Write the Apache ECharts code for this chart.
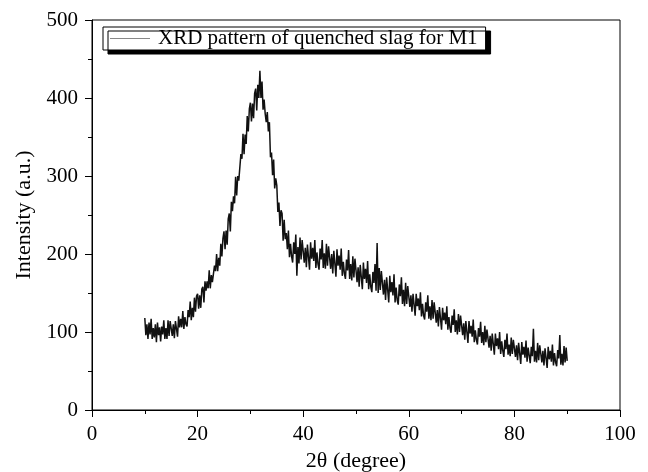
<!DOCTYPE html>
<html>
<head>
<meta charset="utf-8">
<script src="https://cdn.jsdelivr.net/npm/echarts@6/dist/echarts.min.js"></script>
<style>
  html, body { margin: 0; padding: 0; background: #fff; }
  #chart { width: 648px; height: 472px; }
</style>
</head>
<body>
<div id="chart"></div>
<script>
// scan grid: 10 to 90 degrees, step 0.2
const angleStart = 10
const angleStep = 0.2

// intensity, 5 points per degree
const intensity = [
  118, 96, 110, 91, 112,    97, 117, 91, 105, 93,     110, 87, 112, 96, 106,    88, 107, 97, 115, 91,
  105, 91, 115, 95, 114,    115, 95, 110, 92, 114,    116, 94, 120, 106, 117,   106, 127, 104, 119, 110,
  107, 128, 119, 139, 115,  131, 119, 144, 126, 146,  149, 130, 147, 131, 155,  158, 138, 165, 153, 165,
  156, 179, 156, 173, 164,  163, 185, 178, 200, 178,  195, 185, 213, 197, 220,  229, 206, 230, 212, 245,
  252, 229, 267, 255, 274,  265, 299, 275, 300, 294,  296, 328, 322, 354, 328,  353, 341, 377, 357, 386,
  394, 370, 393, 374, 406,  412, 384, 417, 400, 435,  400, 421, 385, 398, 380,  369, 382, 357, 369, 324,
  330, 301, 321, 284, 297,  288, 254, 266, 236, 256,  252, 217, 244, 219, 227,  206, 230, 196, 213, 197,
  189, 215, 200, 225, 172,  209, 188, 221, 193, 218,  219, 189, 208, 183, 212,  213, 180, 215, 194, 208,
  191, 218, 182, 202, 187,  180, 207, 193, 218, 182,  201, 181, 213, 185, 210,  211, 181, 200, 175, 204,
  204, 171, 206, 185, 198,  180, 207, 172, 190, 175,  168, 193, 179, 205, 168,  187, 166, 197, 170, 194,
  195, 164, 183, 158, 186,  188, 155, 189, 168, 181,  163, 191, 155, 174, 158,  151, 177, 163, 187, 153,
  214, 150, 182, 154, 178,  179, 148, 167, 141, 170,  171, 138, 172, 151, 164,  147, 174, 138, 157, 141,
  135, 161, 146, 170, 136,  154, 133, 163, 136, 159,  157, 132, 147, 126, 149,  150, 121, 149, 133, 143,
  128, 151, 120, 136, 121,  116, 138, 126, 147, 117,  133, 115, 141, 117, 138,  138, 112, 128, 107, 132,
  132, 103, 131, 115, 125,  110, 133, 103, 119, 105,  99, 121, 109, 129, 100,   115, 97, 123, 100, 121,
  121, 96, 111, 90, 114,    115, 86, 114, 98, 108,    94, 116, 87, 102, 90,     84, 105, 94, 113, 86,
  100, 83, 108, 87, 103,    104, 80, 95, 76, 98,      99, 71, 98, 82, 92,       78, 100, 72, 88, 76,
  68, 90, 78, 98, 71,       84, 69, 93, 72, 90,       91, 68, 83, 64, 86,       86, 59, 87, 71, 81,
  67, 89, 62, 80, 70,       60, 81, 69, 104, 62,      76, 61, 86, 64, 83,       84, 61, 76, 57, 79,
  80, 54, 81, 65, 76,       62, 84, 57, 73, 61,       56, 77, 66, 96, 58,       72, 57, 82, 61, 80,
  63
]

const xTicks = [0, 20, 40, 60, 80, 100]
const yTicks = [0, 100, 200, 300, 400, 500]
const seriesName = 'XRD pattern of quenched slag for M1'

const points = intensity.map((v, i) => [angleStart + i * angleStep, v])

const serif = 'Liberation Serif'
const chart = echarts.init(document.getElementById('chart'))
chart.setOption({
  animation: false,
  backgroundColor: '#fff',
  grid: {
    left: 92, right: 28, top: 20, bottom: 62,
    outerBoundsMode: 'none',
    show: true, borderColor: '#000', borderWidth: 1
  },
  legend: {
    left: 103, top: 27,
    padding: [1, 8, 1, 7],
    itemWidth: 40, itemHeight: 1, itemGap: 4,
    backgroundColor: '#fff',
    borderColor: '#000', borderWidth: 1,
    shadowColor: '#000', shadowBlur: 0, shadowOffsetX: 5, shadowOffsetY: 4,
    itemStyle: { color: '#888' },
    textStyle: { fontFamily: serif, fontSize: 21, color: '#000', padding: [0, 0, 0, 3] },
    data: [{ name: seriesName, icon: 'rect' }]
  },
  xAxis: {
    type: 'value',
    min: 0, max: 100, interval: 20,
    name: '2θ (degree)',
    nameLocation: 'middle', nameGap: 38,
    nameTextStyle: { fontFamily: serif, fontSize: 22, color: '#000' },
    axisLine: { lineStyle: { color: '#000', width: 1 } },
    axisTick: { inside: false, length: 7, lineStyle: { color: '#000' } },
    minorTick: { show: true, splitNumber: 2, length: 4, lineStyle: { color: '#000' } },
    axisLabel: { fontFamily: serif, fontSize: 21, color: '#000', margin: 14,
      formatter: v => xTicks.includes(v) ? String(v) : '' },
    splitLine: { show: false }
  },
  yAxis: {
    type: 'value',
    min: 0, max: 500, interval: 100,
    name: 'Intensity (a.u.)',
    nameLocation: 'middle', nameGap: 56,
    nameTextStyle: { fontFamily: serif, fontSize: 22, color: '#000' },
    axisLine: { show: true, lineStyle: { color: '#000', width: 1 } },
    axisTick: { show: true, inside: false, length: 7, lineStyle: { color: '#000' } },
    minorTick: { show: true, splitNumber: 2, length: 4, lineStyle: { color: '#000' } },
    axisLabel: { fontFamily: serif, fontSize: 21, color: '#000', margin: 14,
      formatter: v => yTicks.includes(v) ? String(v) : '' },
    splitLine: { show: false }
  },
  series: [{
    name: seriesName,
    type: 'line',
    symbol: 'none',
    lineStyle: { color: '#111', width: 1.5 },
    itemStyle: { color: '#888' },
    data: points
  }]
})
</script>
</body>
</html>
